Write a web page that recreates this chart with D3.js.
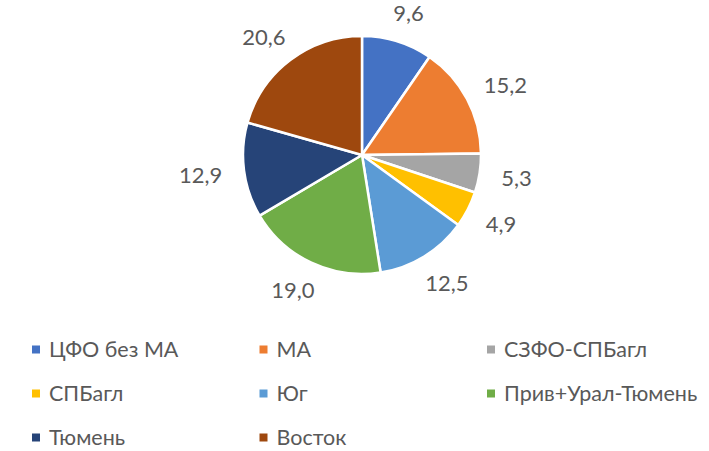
<!DOCTYPE html>
<html>
<head>
<meta charset="utf-8">
<script src="https://cdn.jsdelivr.net/npm/d3@7.9.0/dist/d3.min.js"></script>
<style>
  html, body { margin: 0; padding: 0; background: #fff; }
  svg { display: block; }
  text { font-family: Lato, "Open Sans", sans-serif; fill: #595959; }
</style>
</head>
<body>
<svg id="chart" width="709" height="451"></svg>
<script>
// Data
const regions = ['ЦФО без МА', 'МА', 'СЗФО-СПБагл', 'СПБагл', 'Юг', 'Прив+Урал-Тюмень', 'Тюмень', 'Восток'];
const shares = [9.6, 15.2, 5.3, 4.9, 12.5, 19.0, 12.9, 20.6];
const palette = ['#4472C4', '#ED7D31', '#A5A5A5', '#FFC000', '#5B9BD5', '#70AD47', '#264478', '#9E480E'];

const data = regions.map((name, i) => ({ name, value: shares[i] }));

const cx = 362, cy = 155, radius = 119;
const fmt = (v) => v.toFixed(1).replace('.', ',');

const svg = d3.select('#chart');
const colors = d3.scaleOrdinal().domain(regions).range(palette);

// Pie slices, clockwise from 12 o'clock
const pie = d3.pie().value((d) => d.value).sort(null);
const arcGen = d3.arc().innerRadius(0).outerRadius(radius);
const arcs = pie(data);

const g = svg.append('g').attr('transform', `translate(${cx},${cy})`);

g.selectAll('path')
  .data(arcs)
  .join('path')
  .attr('d', arcGen)
  .attr('fill', (d) => colors(d.data.name))
  .attr('stroke', '#fff')
  .attr('stroke-width', 2.5)
  .attr('stroke-linejoin', 'round');

// Data labels just outside the slices
const labelArc = d3.arc().innerRadius(radius + 22).outerRadius(radius + 22);
g.selectAll('text.lbl')
  .data(arcs)
  .join('text')
  .attr('class', 'lbl')
  .attr('font-size', 22)
  .attr('text-anchor', 'middle')
  .attr('dominant-baseline', 'central')
  .text((d) => fmt(d.data.value))
  .each(function (d) {
    const [x, y] = labelArc.centroid(d);
    const a = (d.startAngle + d.endAngle) / 2;
    const hw = this.getComputedTextLength() / 2;
    d3.select(this)
      .attr('x', x + hw * Math.sin(a))
      .attr('y', y - 8 * Math.cos(a));
  });

// Legend: 3 columns
const legendX = d3.scaleLinear().domain([0, 1]).range([32, 259.5]);
const legendY = d3.scaleLinear().domain([0, 1]).range([349.5, 393.5]);

const items = svg.append('g')
  .selectAll('g')
  .data(data)
  .join('g')
  .attr('transform', (d, i) => `translate(${legendX(i % 3)},${legendY(Math.floor(i / 3))})`);

items.append('rect')
  .attr('x', 0)
  .attr('y', -4)
  .attr('width', 8)
  .attr('height', 8)
  .attr('fill', (d) => colors(d.name));

items.append('text')
  .attr('x', 17)
  .attr('y', 7.5)
  .attr('font-size', 21.5)
  .text((d) => d.name);
</script>
</body>
</html>
